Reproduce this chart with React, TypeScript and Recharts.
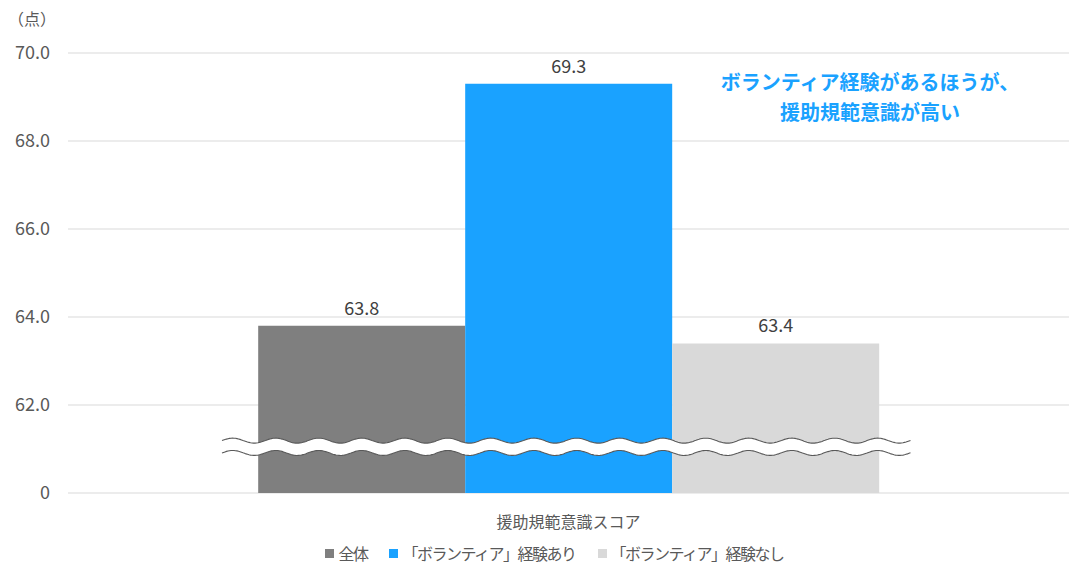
import React from 'react';
import { BarChart, Bar, XAxis, YAxis, CartesianGrid, Legend, LabelList, Rectangle } from 'recharts';

const categories = ['援助規範意識スコア'];
const seriesNames = ['全体', '「ボランティア」経験あり', '「ボランティア」経験なし'];
const seriesKeys = ['s0', 's1', 's2'];
const seriesColors = ['#7f7f7f', '#1aa2ff', '#d9d9d9'];
const allValues = [63.8];
const yesValues = [69.3];
const noValues = [63.4];
const yTicks = [60, 62, 64, 66, 68, 70];
const yMin = 60;
const breakLow = 60.91;
const breakHigh = 61.19;
const annotationLines = ['ボランティア経験があるほうが、', '援助規範意識が高い'];

const data = categories.map((c, i) => ({ name: c, s0: allValues[i], s1: yesValues[i], s2: noValues[i] }));

const FONT = "'Noto Sans CJK JP', 'Noto Sans', sans-serif";

function waveY(x: number, x0: number, y: number, amp: number, period: number) {
  return y - amp * Math.sin(((x - x0) / period) * Math.PI * 2);
}

function wavePath(x0: number, x1: number, y: number, amp: number, period: number) {
  let d = '';
  for (let x = x0; x <= x1; x += 1.5) {
    d += (x === x0 ? 'M' : 'L') + x.toFixed(1) + ',' + waveY(x, x0, y, amp, period).toFixed(1) + ' ';
  }
  return d;
}

const LastBarWithBreak = (props: any) => {
  const { x, y, width, height, fill, payload } = props;
  const val = payload[seriesKeys[2]];
  const base = y + height;
  const ppu = height / (val - yMin);
  const yTop = base - (breakHigh - yMin) * ppu;
  const yBot = base - (breakLow - yMin) * ppu;
  const x0 = x - 2 * width - width * 0.175;
  const x1 = x + width + width * 0.155;
  const amp = 2.5;
  const period = 43;
  const pts: string[] = [];
  for (let xx = x0; xx <= x1; xx += 1.5) pts.push(`${xx.toFixed(1)},${waveY(xx, x0, yTop, amp, period).toFixed(1)}`);
  for (let xx = x1; xx >= x0; xx -= 1.5) pts.push(`${xx.toFixed(1)},${waveY(xx, x0, yBot, amp, period).toFixed(1)}`);
  return (
    <g>
      <Rectangle x={x} y={y} width={width} height={height} fill={fill} />
      <polygon points={pts.join(' ')} fill="#ffffff" />
      <path d={wavePath(x0, x1, yTop, amp, period)} stroke="#595959" strokeWidth={1.1} fill="none" />
      <path d={wavePath(x0, x1, yBot, amp, period)} stroke="#595959" strokeWidth={1.1} fill="none" />
    </g>
  );
};

const LegendContent = (props: any) => {
  const { payload } = props;
  const items = (payload || []).slice().sort((a: any, b: any) => seriesKeys.indexOf(a.dataKey) - seriesKeys.indexOf(b.dataKey));
  return (
    <div style={{ display: 'flex', justifyContent: 'center', alignItems: 'center', height: 34, paddingLeft: 32 }}>
      {items.map((it: any, i: number) => (
        <div key={it.value} style={{ display: 'flex', alignItems: 'center', marginLeft: i === 0 ? 0 : 22 }}>
          <span style={{ display: 'inline-block', width: 9, height: 9, background: it.color, marginRight: 4 }} />
          <span style={{ color: '#595959', fontSize: 16, letterSpacing: '-1.5px', fontFamily: FONT, lineHeight: '34px' }}>{it.value}</span>
        </div>
      ))}
    </div>
  );
};

export default function App() {
  return (
    <div style={{ position: 'absolute', left: 0, top: 0, width: 1069, height: 570, background: '#fff', fontFamily: FONT }}>
      <div style={{ position: 'absolute', left: 8, top: 6, fontSize: 16, color: '#595959' }}>（点）</div>
      <BarChart
        width={1069}
        height={570}
        data={data}
        margin={{ top: 53, right: 0, left: 8, bottom: 0 }}
        barCategoryGap="19%"
        barGap={0}
      >
        <CartesianGrid vertical={false} stroke="#d9d9d9" />
        <XAxis
          dataKey="name"
          axisLine={false}
          tickLine={false}
          height={43}
          tickMargin={18}
          tick={{ fill: '#595959', fontSize: 16, fontFamily: FONT }}
        />
        <YAxis
          domain={[60, 70]}
          ticks={yTicks}
          width={60}
          axisLine={false}
          tickLine={false}
          tickSize={0}
          tickMargin={18}
          allowDataOverflow
          tickFormatter={(v: number) => (v === 60 ? '0' : v.toFixed(1))}
          tick={{ fill: '#595959', fontSize: 18, fontFamily: FONT }}
        />
        <Legend verticalAlign="bottom" height={34} content={<LegendContent />} />
        {seriesKeys.map((k, i) => (
          <Bar
            key={k}
            dataKey={k}
            name={seriesNames[i]}
            fill={seriesColors[i]}
            isAnimationActive={false}
            shape={i === 2 ? <LastBarWithBreak /> : undefined}
          >
            <LabelList
              dataKey={k}
              position="top"
              offset={11}
              formatter={(v: number) => v.toFixed(1)}
              style={{ fill: '#404040', fontSize: 18, fontFamily: FONT }}
            />
          </Bar>
        ))}
      </BarChart>
      <div
        style={{
          position: 'absolute',
          left: 700,
          top: 67,
          width: 340,
          textAlign: 'center',
          color: '#1aa2ff',
          fontWeight: 'bold',
          fontSize: 20,
          lineHeight: '30px',
        }}
      >
        {annotationLines.map((l) => (
          <div key={l}>{l}</div>
        ))}
      </div>
    </div>
  );
}
